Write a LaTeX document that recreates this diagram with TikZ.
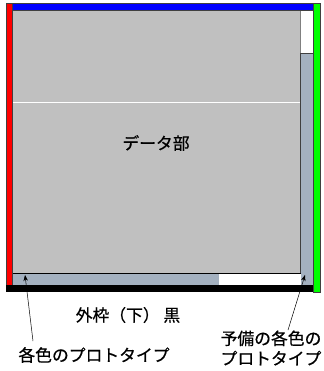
\documentclass[tikz,border=0pt]{standalone}
\usepackage{fontspec}
\newfontfamily\jp[FakeBold=0.6]{Noto Sans CJK JP}
\usetikzlibrary{arrows.meta}
\definecolor{datagray}{RGB}{192,192,192}
\definecolor{protogray}{RGB}{164,177,192}
\definecolor{edgegray}{RGB}{64,64,64}
\definecolor{pureblue}{RGB}{0,0,255}
\definecolor{purered}{RGB}{255,0,0}
\definecolor{puregreen}{RGB}{0,255,0}
\tikzset{
  bar/.style={draw=edgegray, line width=0.6pt},
  lbl/.style={font=\jp\fontsize{16.8}{20}\selectfont, inner sep=0pt, align=center},
  pointer/.style={draw=black, line width=0.5pt, -{Stealth[length=6pt,width=4.5pt]}},
}
\begin{document}
\begin{tikzpicture}[x=1pt,y=-1pt]
\useasboundingbox (0,0) rectangle (323,371);
% data region
\fill[datagray] (12,10) rectangle (300.7,273);
\draw[white, line width=1pt] (12,103) -- (300.7,103);
% right spare column
\fill[white] (300.7,10) rectangle (313,53);
\filldraw[fill=protogray, bar] (300.7,53) rectangle (313,285);
\draw[gray, line width=0.8pt] (300.7,10) -- (300.7,53);
% bottom prototype strip
\fill[protogray] (12,273) rectangle (219,285);
\fill[white] (219,273) rectangle (300.7,285);
\draw[black, line width=0.8pt] (12,273) -- (300.7,273);
% frame bars
\filldraw[fill=purered, bar] (6,3) rectangle (12,285);
\filldraw[fill=pureblue, bar] (12,3) rectangle (313,10);
\filldraw[fill=puregreen, bar] (313,3) rectangle (320,292);
\fill[black] (6,285) rectangle (313,291.5);
% labels
\node[lbl] (data) at (156,143) {データ部};
\node[lbl] (bottom) at (128,315) {外枠（下） 黒};
\node[lbl] (proto) at (94,355) {各色のプロトタイプ};
\node[lbl] (spare) at (271,348) {予備の各色の\\プロトタイプ};
% pointers
\coordinate (tipA) at (25,275);
\coordinate (tailA) at (33,341);
\coordinate (tipB) at (305,275);
\coordinate (tailB) at (288,330);
\draw[pointer] (tailA) -- (tipA);
\draw[pointer] (tailB) -- (tipB);
\end{tikzpicture}
\end{document}
